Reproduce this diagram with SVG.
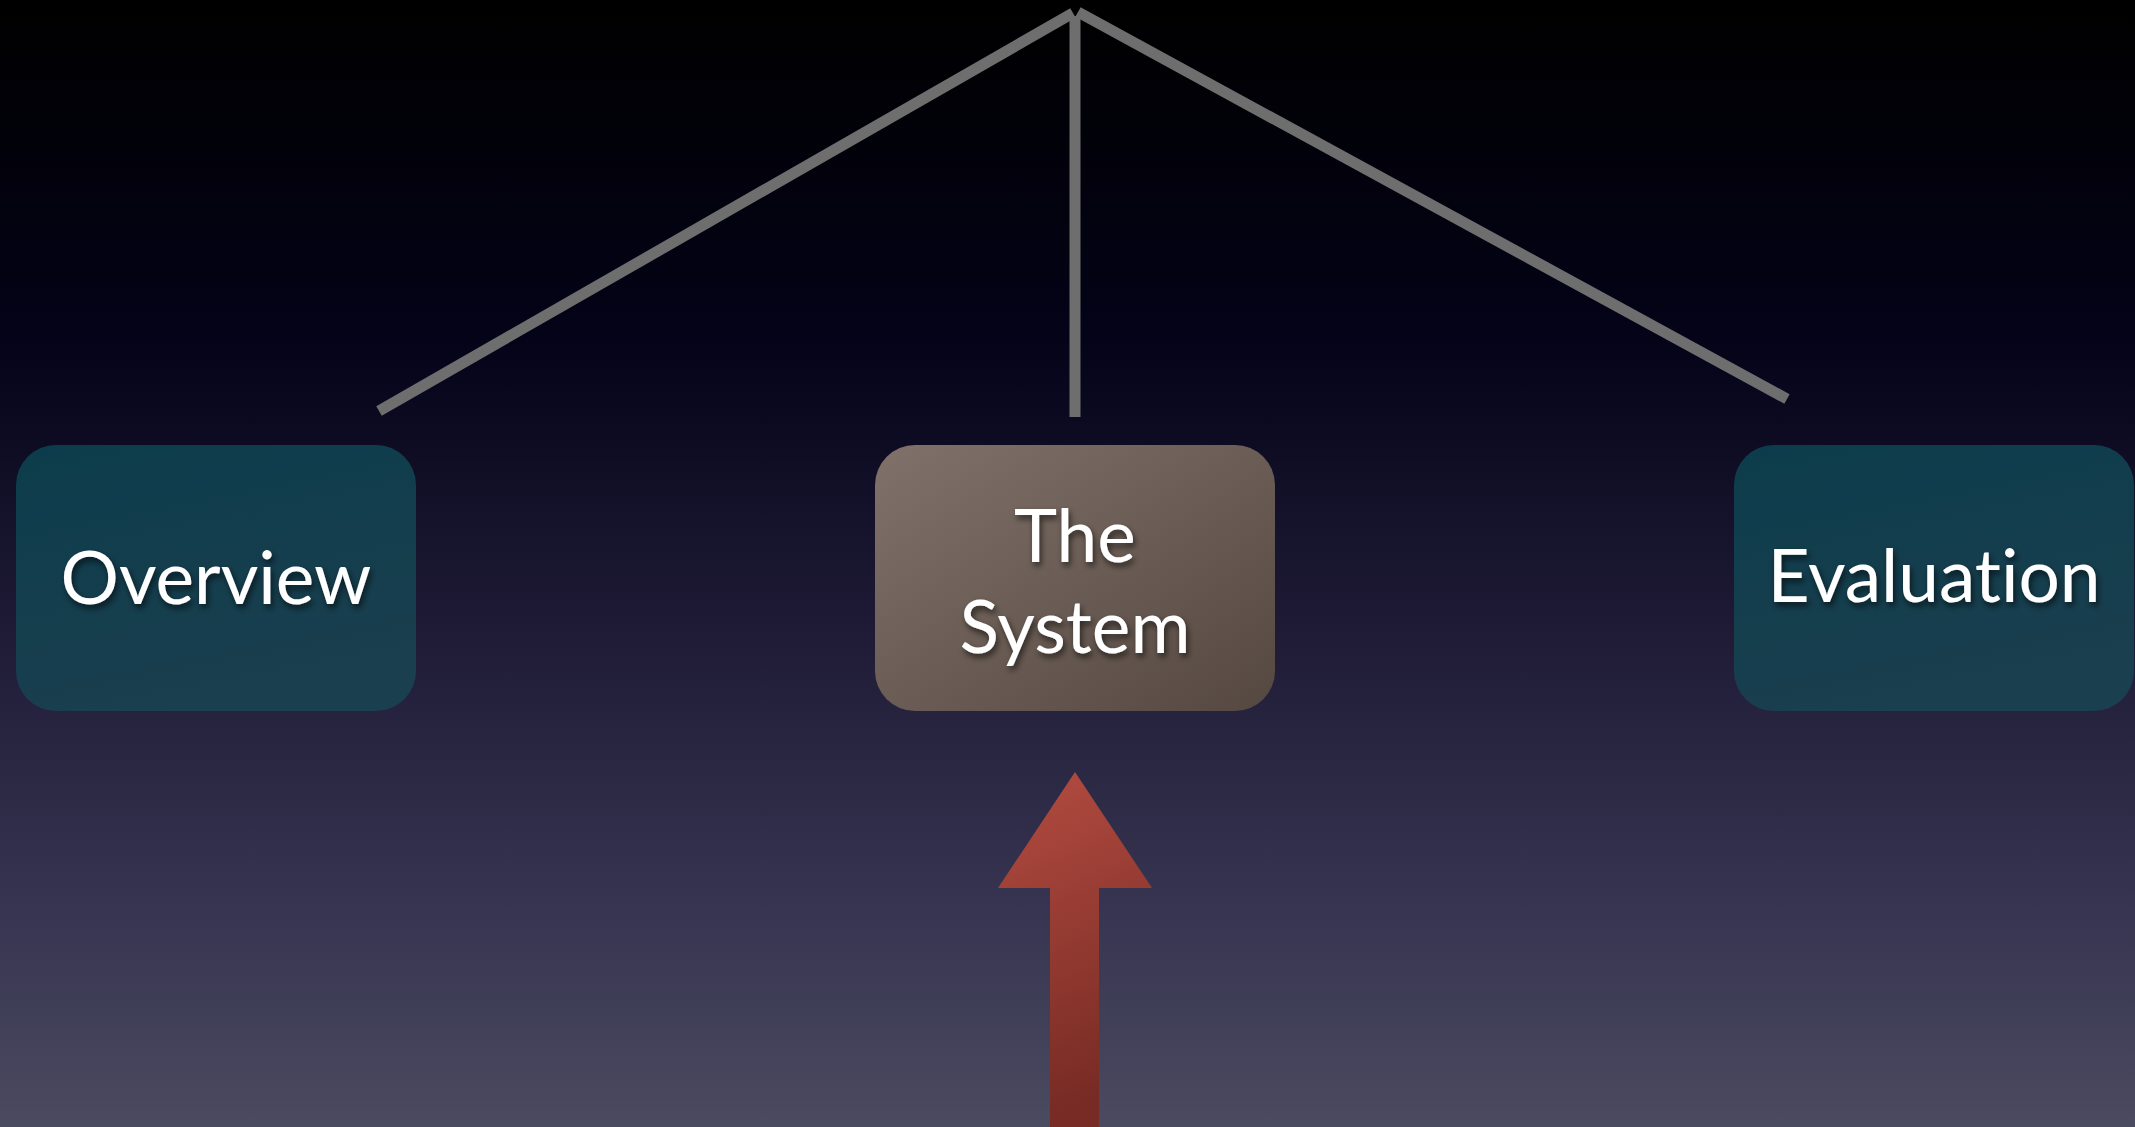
<svg xmlns="http://www.w3.org/2000/svg" width="2135" height="1127" viewBox="0 0 2135 1127">
<defs>
<linearGradient id="bg" x1="0" y1="0" x2="0" y2="1">
<stop offset="0" stop-color="#000000"/>
<stop offset="0.3" stop-color="#040318"/>
<stop offset="0.55" stop-color="#1e1a35"/>
<stop offset="0.8" stop-color="#363450"/>
<stop offset="1" stop-color="#4a4a60"/>
</linearGradient>
<linearGradient id="teal" x1="0" y1="0" x2="0.3" y2="1">
<stop offset="0" stop-color="#0c3c4b"/>
<stop offset="1" stop-color="#1a3f4f"/>
</linearGradient>
<linearGradient id="brown" x1="0" y1="0" x2="1" y2="1">
<stop offset="0" stop-color="#80726a"/>
<stop offset="1" stop-color="#554840"/>
</linearGradient>
<linearGradient id="red" x1="0" y1="0" x2="0.2" y2="1">
<stop offset="0" stop-color="#b44c41"/>
<stop offset="1" stop-color="#772b24"/>
</linearGradient>
<filter id="sh" x="-10%" y="-20%" width="120%" height="150%">
<feDropShadow dx="2" dy="4" stdDeviation="3" flood-color="#000" flood-opacity="0.6"/>
</filter>
<style>
.lbl{font-family:"Gill Sans","Lato","Liberation Sans",sans-serif;font-size:73px;fill:#ffffff;text-anchor:middle;filter:url(#sh);font-variant-ligatures:none;font-feature-settings:"liga" 0,"clig" 0,"dlig" 0}
.conn{stroke:#6e6e6e;stroke-width:11;fill:none}
</style>
</defs>
<rect width="2135" height="1127" fill="url(#bg)"/>
<g id="connectors">
<line class="conn" x1="1073" y1="13" x2="379" y2="411"/>
<line class="conn" x1="1078" y1="12" x2="1787" y2="399"/>
<line class="conn" x1="1075" y1="16" x2="1075" y2="417"/>
<polygon id="arrow" points="1075,772 1152,888 1099,888 1099,1127 1050,1127 1050,888 998,888" fill="url(#red)"/>
</g>
<g id="overview">
<rect x="16" y="445" width="400" height="266" rx="40" fill="url(#teal)"/>
<text class="lbl" x="216" y="604">Overview</text>
</g>
<g id="system">
<rect x="875" y="445" width="400" height="266" rx="40" fill="url(#brown)"/>
<text class="lbl" x="1075" y="562">The</text>
<text class="lbl" x="1075" y="653">System</text>
</g>
<g id="evaluation">
<rect x="1734" y="445" width="400" height="266" rx="40" fill="url(#teal)"/>
<text class="lbl" x="1934" y="602">Evaluation</text>
</g>
</svg>
